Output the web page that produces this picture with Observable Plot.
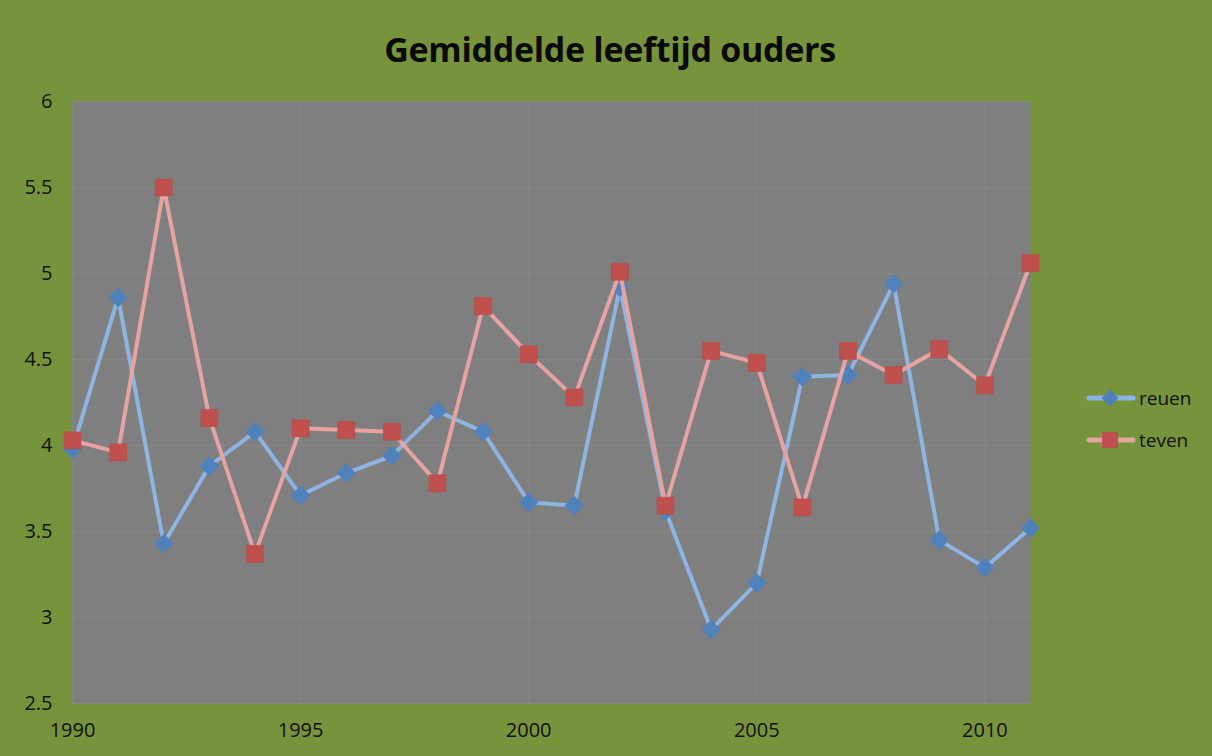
<!DOCTYPE html>
<html>
<head>
<meta charset="utf-8">
<script src="https://cdn.jsdelivr.net/npm/d3@7"></script>
<script src="https://cdn.jsdelivr.net/npm/@observablehq/plot@0.6"></script>
<style>
  html, body { margin: 0; padding: 0; }
  body { width: 1212px; height: 756px; background: #77933C; position: relative; overflow: hidden; font-family: "Open Sans", sans-serif; }
  #title { height: 85px; line-height: 98px; text-align: center; font-weight: 700; font-size: 34px; color: #0a0a0a; padding-left: 8px; box-sizing: border-box; letter-spacing: -0.3px; }
  #legend { position: absolute; left: 1086px; top: 377px; font-size: 19px; color: #111; }
  .item { display: flex; align-items: center; height: 42px; }
  .item svg { margin-right: 3px; }
</style>
</head>
<body>
<div id="title">Gemiddelde leeftijd ouders</div>
<div id="chart"></div>
<div id="legend"></div>
<script>
const years = [1990,1991,1992,1993,1994,1995,1996,1997,1998,1999,2000,2001,2002,2003,2004,2005,2006,2007,2008,2009,2010,2011];
const reuen = [3.98,4.86,3.43,3.88,4.08,3.71,3.84,3.94,4.20,4.08,3.67,3.65,4.92,3.62,2.93,3.20,4.40,4.41,4.94,3.45,3.29,3.52];
const teven = [4.03,3.96,5.50,4.16,3.37,4.10,4.09,4.08,3.78,4.81,4.53,4.28,5.01,3.65,4.55,4.48,3.64,4.55,4.41,4.56,4.35,5.06];
const xTicks = [1990,1995,2000,2005,2010];
const yTicks = [2.5,3,3.5,4,4.5,5,5.5,6];
const seriesNames = ["reuen","teven"];

const blueLine = "#8DB4E2", blueMark = "#4F81BD";
const redLine = "#E6A3A2", redMark = "#C0504D";

const data = years.map((y,i) => ({year: y, reuen: reuen[i], teven: teven[i]}));

const chart = Plot.plot({
  width: 1212,
  height: 671,
  marginTop: 16,
  marginLeft: 72,
  marginRight: 182,
  marginBottom: 53,
  style: {background: "transparent", fontFamily: "Open Sans, sans-serif", fontSize: "20px", color: "#111"},
  x: {domain: [1990, 2011], label: null},
  y: {domain: [2.5, 6], label: null},
  marks: [
    Plot.frame({fill: "#7F7F7F", stroke: null}),
    Plot.gridY(yTicks, {stroke: "#878787", strokeOpacity: 1, strokeWidth: 1}),
    Plot.gridX(xTicks, {stroke: "#858585", strokeOpacity: 1, strokeWidth: 1}),
    Plot.axisX(xTicks, {tickSize: 0, tickPadding: 19, tickFormat: d => String(d), fill: "#111", label: null}),
    Plot.axisY(yTicks, {tickSize: 0, tickPadding: 20, tickFormat: d => String(d), fill: "#111", label: null}),
    Plot.line(data, {x: "year", y: "reuen", stroke: blueLine, strokeWidth: 4, strokeLinejoin: "round"}),
    Plot.dot(data, {x: "year", y: "reuen", symbol: "square", rotate: 45, r: 7.8, fill: blueMark, stroke: null}),
    Plot.line(data, {x: "year", y: "teven", stroke: redLine, strokeWidth: 4, strokeLinejoin: "round"}),
    Plot.dot(data, {x: "year", y: "teven", symbol: "square", r: 9.6, fill: redMark, stroke: "#B94845", strokeWidth: 0.5})
  ]
});
document.getElementById("chart").appendChild(chart);

const legend = document.getElementById("legend");
const specs = [
  {name: seriesNames[0], line: blueLine, mark: blueMark, diamond: true},
  {name: seriesNames[1], line: redLine, mark: redMark, diamond: false}
];
for (const s of specs) {
  const item = document.createElement("div");
  item.className = "item";
  const shape = s.diamond
    ? `<rect x="18" y="5" width="12" height="12" transform="rotate(45 24 11)" fill="${s.mark}"/>`
    : `<rect x="16" y="3" width="16" height="16" fill="${s.mark}"/>`;
  item.innerHTML = `<svg width="50" height="22"><line x1="3" x2="47" y1="11" y2="11" stroke="${s.line}" stroke-width="5" stroke-linecap="round"/>${shape}</svg><span>${s.name}</span>`;
  legend.appendChild(item);
}
</script>
</body>
</html>
